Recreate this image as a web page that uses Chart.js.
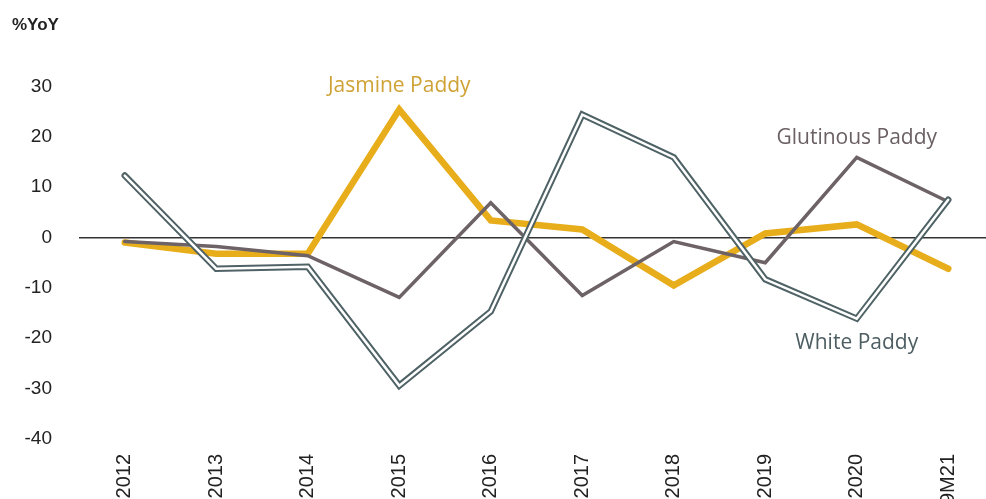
<!DOCTYPE html>
<html>
<head>
<meta charset="utf-8">
<script src="https://cdn.jsdelivr.net/npm/chart.js@4/dist/chart.umd.min.js"></script>
<style>
  html, body { margin: 0; padding: 0; background: #fff; }
  #wrap { width: 986px; height: 499px; overflow: hidden; }
</style>
</head>
<body>
<div id="wrap"><canvas id="chart" width="1000" height="499"></canvas></div>
<script>
const categories = ['2012', '2013', '2014', '2015', '2016', '2017', '2018', '2019', '2020', '9M21'];
const whitePaddy = [12.3, -6.2, -5.8, -29.4, -14.7, 24.4, 15.9, -8.3, -16.1, 7.5];
const jasminePaddy = [-1.0, -3.2, -3.2, 25.4, 3.4, 1.6, -9.5, 0.8, 2.6, -6.2];
const glutinousPaddy = [-0.8, -1.8, -3.6, -11.9, 6.9, -11.5, -0.8, -5.0, 15.9, 7.1];
const yTicks = [-40, -30, -20, -10, 0, 10, 20, 30];

// series name labels, placed by category index and value
const seriesLabels = [
    {text: 'Jasmine Paddy', index: 3, value: 30, color: '#cfa236'},
    {text: 'Glutinous Paddy', index: 8, value: 19.8, color: '#6b6063'},
    {text: 'White Paddy', index: 8, value: -20.9, color: '#4d5e63'}
];

const labelPlugin = {
    id: 'seriesLabels',
    afterDatasetsDraw(chart) {
        const c = chart.ctx;
        const x = chart.scales.x;
        const y = chart.scales.y;
        c.save();
        c.font = '21px "Open Sans"';
        c.textAlign = 'center';
        c.textBaseline = 'middle';
        seriesLabels.forEach(l => {
            c.fillStyle = l.color;
            c.fillText(l.text, x.getPixelForValue(l.index), y.getPixelForValue(l.value));
        });
        c.restore();
    }
};

const ctx = document.getElementById('chart');
const lineOpts = {fill: false, pointRadius: 0, tension: 0, borderCapStyle: 'round', borderJoinStyle: 'miter'};

new Chart(ctx, {
    type: 'line',
    data: {
        labels: categories,
        datasets: [
            Object.assign({label: 'White Paddy', data: whitePaddy, borderColor: '#ffffff', borderWidth: 2.5, order: 0}, lineOpts),
            Object.assign({label: 'White Paddy outline', data: whitePaddy, borderColor: '#4f6266', borderWidth: 6.5, order: 1}, lineOpts),
            Object.assign({label: 'Glutinous Paddy', data: glutinousPaddy, borderColor: '#6d6266', borderWidth: 3.5, order: 2}, lineOpts),
            Object.assign({label: 'Jasmine Paddy', data: jasminePaddy, borderColor: '#e8ad1a', borderWidth: 6.5, order: 3}, lineOpts)
        ]
    },
    options: {
        responsive: false,
        animation: false,
        layout: {padding: {left: 12, right: 6, top: 0, bottom: 0}},
        plugins: {
            legend: {display: false},
            tooltip: {enabled: false},
            title: {
                display: true,
                text: '%YoY',
                align: 'start',
                color: '#222',
                font: {family: 'Liberation Sans', size: 17, weight: 'bold'},
                padding: {top: 15, bottom: 51}
            }
        },
        scales: {
            x: {
                offset: true,
                grid: {display: false},
                border: {display: false},
                ticks: {
                    color: '#222',
                    font: {family: 'Liberation Sans', size: 20},
                    minRotation: 90,
                    maxRotation: 90,
                    padding: 7
                },
                afterFit(scale) { scale.height = 60; }
            },
            y: {
                min: -40,
                max: 30,
                afterBuildTicks(scale) { scale.ticks = yTicks.map(v => ({value: v})); },
                border: {display: false},
                grid: {
                    drawTicks: false,
                    lineWidth: 1.5,
                    color: c => c.tick && c.tick.value === 0 ? '#333' : 'rgba(0,0,0,0)'
                },
                ticks: {
                    color: '#222',
                    font: {family: 'Liberation Sans', size: 19},
                    padding: 27
                },
                afterFit(scale) { scale.width = 67; }
            }
        }
    },
    plugins: [labelPlugin]
});
</script>
</body>
</html>
